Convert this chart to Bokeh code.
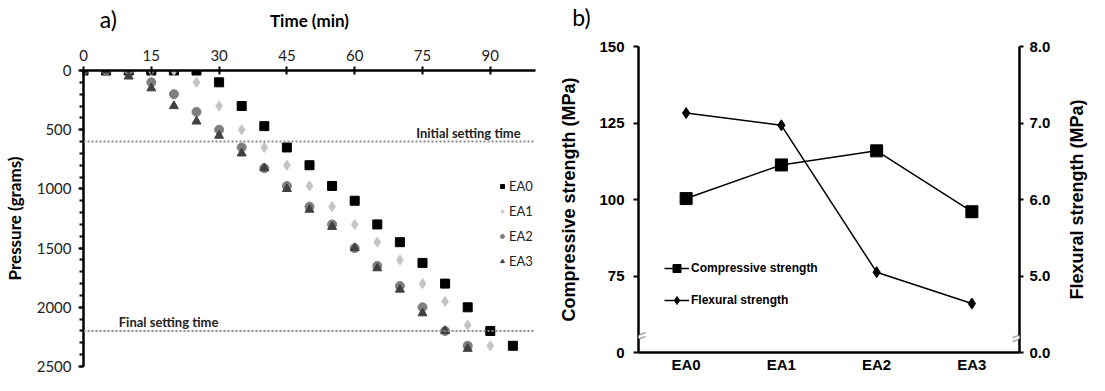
import math
from bokeh.plotting import figure
from bokeh.models import (Range1d, FactorRange, LinearAxis, SingleIntervalTicker,
                          FixedTicker, Span, Label, Legend, LegendItem,
                          PolyAnnotation, NumeralTickFormatter)
from bokeh.layouts import row
from bokeh.embed import file_html
from bokeh.resources import INLINE

# ---------------- panel a data (Vicat penetration) ----------------
ea0_time = [0, 5, 10, 15, 20, 25, 30, 35, 40, 45, 50, 55, 60, 65, 70, 75, 80, 85, 90, 95]
ea0_pressure = [0, 0, 0, 0, 0, 0, 100, 300, 470, 650, 800, 975, 1100, 1300, 1450, 1625, 1800, 2000, 2200, 2325]
ea1_time = [0, 5, 10, 15, 20, 25, 30, 35, 40, 45, 50, 55, 60, 65, 70, 75, 80, 85, 90]
ea1_pressure = [0, 0, 0, 0, 0, 100, 300, 500, 650, 800, 975, 1150, 1300, 1450, 1600, 1800, 1950, 2150, 2325]
ea2_time = [0, 5, 10, 15, 20, 25, 30, 35, 40, 45, 50, 55, 60, 65, 70, 75, 80, 85]
ea2_pressure = [0, 0, 0, 100, 200, 350, 500, 650, 825, 975, 1150, 1300, 1500, 1650, 1820, 2000, 2200, 2325]
ea3_time = [0, 5, 10, 15, 20, 25, 30, 35, 40, 45, 50, 55, 60, 65, 70, 75, 80, 85]
ea3_pressure = [0, 0, 50, 150, 300, 430, 550, 700, 825, 1000, 1175, 1320, 1500, 1670, 1850, 2050, 2200, 2350]
initial_setting = 600
final_setting = 2200

# ---------------- panel b data (strength) ----------------
mixes = ["EA0", "EA1", "EA2", "EA3"]
compressive_mpa = [100.3, 111.3, 115.9, 96.0]
flexural_mpa = [7.13, 6.97, 5.05, 4.64]

FA = "Lato"
FB = "Liberation Sans"
H = 375


def no_frame_align(p):
    try:
        p.frame_align = False
    except Exception:
        pass


# ================= panel a =================
pa = figure(width=556, height=H, x_range=Range1d(0, 100), y_range=Range1d(2500, 0),
            x_axis_location="above", toolbar_location=None, output_backend="svg",
            min_border_left=76, min_border_right=21, min_border_top=70, min_border_bottom=9)
no_frame_align(pa)
pa.outline_line_color = None
pa.xgrid.grid_line_color = None
pa.ygrid.grid_line_color = None

xa = pa.xaxis[0]
xa.ticker = SingleIntervalTicker(interval=15, num_minor_ticks=0)
xa.axis_label = "Time (min)"
xa.axis_label_text_font = FA
xa.axis_label_text_font_style = "bold"
xa.axis_label_text_font_size = "17px"
xa.axis_label_text_color = "black"
xa.axis_label_standoff = 16
xa.major_label_text_font = FA
xa.major_label_text_font_size = "15px"
xa.major_label_text_color = "#222222"
xa.major_label_standoff = 6
xa.axis_line_width = 2.5
xa.major_tick_line_width = 2
xa.major_tick_in = 4
xa.major_tick_out = 4

ya = pa.yaxis[0]
ya.ticker = SingleIntervalTicker(interval=500, num_minor_ticks=5)
ya.axis_label = "Pressure (grams)"
ya.axis_label_text_font = FA
ya.axis_label_text_font_style = "bold"
ya.axis_label_text_font_size = "17px"
ya.axis_label_text_color = "black"
ya.axis_label_standoff = 9
ya.major_label_text_font = FA
ya.major_label_text_font_size = "15px"
ya.major_label_text_color = "#222222"
ya.major_label_standoff = 7
ya.axis_line_width = 2.5
ya.major_tick_line_width = 2
ya.minor_tick_line_width = 2
ya.major_tick_in = 0
ya.major_tick_out = 5
ya.minor_tick_in = 0
ya.minor_tick_out = 4

for loc in (initial_setting, final_setting):
    pa.add_layout(Span(location=loc, dimension="width", line_color="#8a8a8a",
                       line_dash="2 2", line_width=2))

r0 = pa.scatter(ea0_time, ea0_pressure, marker="square", size=9, color="black")
r1 = pa.scatter(ea1_time, ea1_pressure, marker="diamond", size=10, color="#c4c4c4")
r2 = pa.scatter(ea2_time, ea2_pressure, marker="circle", size=9, color="#7f7f7f")
r3 = pa.scatter(ea3_time, ea3_pressure, marker="triangle", size=9, color="#404040")

leg_a = Legend(items=[LegendItem(label="EA0", renderers=[r0]),
                      LegendItem(label="EA1", renderers=[r1]),
                      LegendItem(label="EA2", renderers=[r2]),
                      LegendItem(label="EA3", renderers=[r3])],
               location=(414, 95), glyph_width=10, glyph_height=20, label_height=20,
               spacing=5, padding=0, margin=0, label_standoff=2,
               border_line_color=None, background_fill_alpha=0,
               label_text_font=FA, label_text_font_size="13px", label_text_color="#222222")
pa.add_layout(leg_a)

pa.add_layout(Label(x=96.7, y=524, text="Initial setting time", text_font=FA,
                    text_font_size="13px", text_font_style="bold", text_align="right",
                    text_baseline="middle", text_color="#222222"))
pa.add_layout(Label(x=7.8, y=2124, text="Final setting time", text_font=FA,
                    text_font_size="13px", text_font_style="bold", text_align="left",
                    text_baseline="middle", text_color="#222222"))
# panel tag, kept in a side panel so that it is not clipped to the plot frame
pa.add_layout(Label(x=5.5, y=-439, text="a)", text_font=FA, text_font_size="23px",
                    text_align="center", text_baseline="middle", text_color="black"), "right")

# ================= panel b =================
W_B = 533
BL, BR, BT, BB = 79, 70, 46, 21
pb = figure(width=W_B, height=H, x_range=FactorRange(*mixes), y_range=Range1d(50, 150),
            toolbar_location=None, output_backend="svg",
            min_border_left=BL, min_border_right=BR, min_border_top=BT, min_border_bottom=BB)
no_frame_align(pb)
pb.outline_line_color = None
pb.xgrid.grid_line_color = None
pb.ygrid.grid_line_color = None
pb.extra_y_ranges = {"flex": Range1d(4, 8)}

bx = pb.xaxis[0]
bx.axis_line_width = 2.5
bx.axis_line_color = "black"
bx.major_tick_in = 0
bx.major_tick_out = 0
bx.major_label_text_font = FB
bx.major_label_text_font_style = "bold"
bx.major_label_text_font_size = "15px"
bx.major_label_text_color = "black"
bx.major_label_standoff = 3

by = pb.yaxis[0]
by.ticker = FixedTicker(ticks=[50, 75, 100, 125, 150])
by.major_label_overrides = {50: "0"}
by.axis_label = "Compressive strength (MPa)"
by.axis_label_text_font = FB
by.axis_label_text_font_style = "bold"
by.axis_label_text_font_size = "18px"
by.axis_label_text_color = "black"
by.axis_label_standoff = 17
by.major_label_text_font = FB
by.major_label_text_font_style = "bold"
by.major_label_text_font_size = "15px"
by.major_label_text_color = "black"
by.major_label_standoff = 9
by.axis_line_width = 2.5
by.axis_line_color = "black"
by.major_tick_line_width = 2
by.major_tick_in = 0
by.major_tick_out = 5
by.minor_tick_line_color = None

ry = LinearAxis(y_range_name="flex", ticker=FixedTicker(ticks=[4, 5, 6, 7, 8]),
                formatter=NumeralTickFormatter(format="0.0"))
ry.major_label_overrides = {4: "0.0"}
ry.major_label_text_font = FB
ry.major_label_text_font_style = "bold"
ry.major_label_text_font_size = "15px"
ry.major_label_text_color = "black"
ry.major_label_standoff = 6
ry.axis_line_width = 2.5
ry.axis_line_color = "black"
ry.major_tick_line_width = 2
ry.major_tick_in = 0
ry.major_tick_out = 4
ry.minor_tick_line_color = None
pb.add_layout(ry, "right")

# right-hand axis title, reading bottom-to-top as in the original
pb.add_layout(Label(x=len(mixes) + 58.0 / 96.0, y=100, text="Flexural strength (MPa)",
                    angle=math.pi / 2, text_font=FB, text_font_style="bold",
                    text_font_size="18px", text_align="center", text_baseline="middle",
                    text_color="black"), "right")

lc = pb.line(mixes, compressive_mpa, line_color="black", line_width=1.5)
sc = pb.scatter(mixes, compressive_mpa, marker="square", size=12, color="black")
lf = pb.line(mixes, flexural_mpa, y_range_name="flex", line_color="black", line_width=1.5)
sf = pb.scatter(mixes, flexural_mpa, y_range_name="flex", marker="diamond",
                size=11, color="black")

leg_b = Legend(items=[LegendItem(label="Compressive strength", renderers=[lc, sc]),
                      LegendItem(label="Flexural strength", renderers=[lf, sf])],
               location=(26, 42), glyph_width=25, glyph_height=20, label_height=20,
               spacing=12, padding=0, margin=0, label_standoff=2,
               border_line_color=None, background_fill_alpha=0,
               label_text_font=FB, label_text_font_size="12px",
               label_text_font_style="bold", label_text_color="black")
pb.add_layout(leg_b)

pb.add_layout(Label(x=-0.6, y=159.7, text="b)", text_font=FA, text_font_size="23px",
                    text_align="center", text_baseline="middle", text_color="black"), "above")

# axis-break marks (decoration) on both value axes
frame_w = W_B - BL - BR
frame_h = H - BT - BB
ux = len(mixes) / frame_w
uy = 100.0 / frame_h
break_y = 55.2


def add_break(xc):
    def pts(pairs):
        return [xc + dx * ux for dx, dy in pairs], [break_y + dy * uy for dx, dy in pairs]
    xs, ys = pts([(-7, -5), (7, 0), (7, 4), (-7, -1)])
    pb.add_layout(PolyAnnotation(xs=xs, ys=ys, fill_color="white", fill_alpha=1,
                                 line_alpha=0, level="overlay"))
    for seg in ([(-7, -5), (7, 0)], [(-7, -1), (7, 4)]):
        xs, ys = pts(seg)
        pb.add_layout(PolyAnnotation(xs=xs, ys=ys, fill_alpha=0, line_color="black",
                                     line_width=1.8, level="overlay"))


add_break(0)
add_break(len(mixes))

layout = row(pa, pb)
open("out.html", "w").write(file_html(layout, INLINE, title="Setting time and strength"))
